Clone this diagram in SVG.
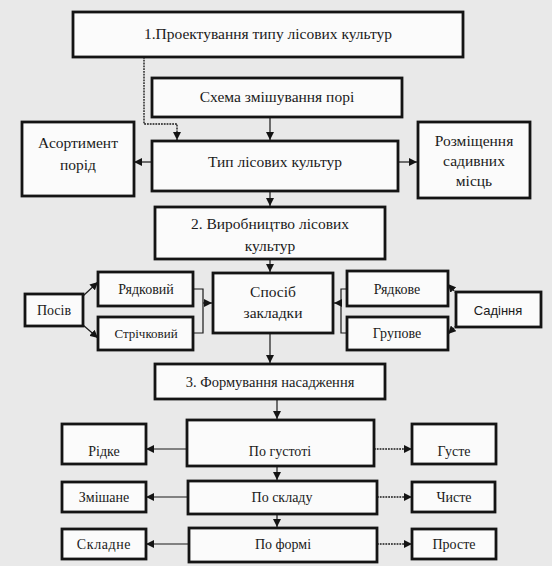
<svg xmlns="http://www.w3.org/2000/svg" width="552" height="566" viewBox="0 0 552 566">
<defs>
<style>
.bx{fill:#fbfbfb;stroke:#141414;stroke-width:2.8}
.t{font-family:"Liberation Serif","Times New Roman",serif;font-size:15.5px;fill:#1a1a1a;text-anchor:middle}
.m{font-size:14px}
.sm{font-size:13px}
.s{font-family:"Liberation Sans",Arial,sans-serif;font-size:13px;fill:#1a1a1a;text-anchor:middle}
.c{fill:none;stroke:#1a1a1a;stroke-width:1.2}
.d{fill:none;stroke:#1a1a1a;stroke-width:1.4;stroke-dasharray:1.8 1}
</style>
<marker id="ah" viewBox="0 0 10 10" refX="10" refY="5" markerWidth="8" markerHeight="8" markerUnits="userSpaceOnUse" orient="auto">
<path d="M0,0 L10,5 L0,10 Z" fill="#141414"/>
</marker>
</defs>
<rect width="552" height="566" fill="#e9e9e9"/>

<g id="connectors">
<path class="d" d="M144,57 V124 H177 V140" marker-end="url(#ah)"/>
<path class="c" d="M270,117 V140" marker-end="url(#ah)"/>
<path class="c" d="M152,162 H134" marker-end="url(#ah)"/>
<path class="c" d="M398,162 H417" marker-end="url(#ah)"/>
<path class="c" d="M270,191 V206" marker-end="url(#ah)"/>
<path class="c" d="M270,259 V272" marker-end="url(#ah)"/>
<path class="c" d="M83,296 L98,282" marker-end="url(#ah)"/>
<path class="c" d="M83,325 L98,338" marker-end="url(#ah)"/>
<path class="c" d="M193,289 H203 V333 H193"/>
<path class="c" d="M203,303 H212" marker-end="url(#ah)"/>
<path class="c" d="M347,289 H341 V333 H347"/>
<path class="c" d="M341,303 H334" marker-end="url(#ah)"/>
<path class="d" d="M456,293 L448,284" marker-end="url(#ah)"/>
<path class="d" d="M456,326 L448,334" marker-end="url(#ah)"/>
<path class="c" d="M270,333 V363" marker-end="url(#ah)"/>
<path class="c" d="M277,399 V419" marker-end="url(#ah)"/>
<path class="c" d="M187,449 H146" marker-end="url(#ah)"/>
<path class="d" d="M374,449 H412" marker-end="url(#ah)"/>
<path class="c" d="M277,466 V480" marker-end="url(#ah)"/>
<path class="c" d="M188,497 H146" marker-end="url(#ah)"/>
<path class="d" d="M377,497 H412" marker-end="url(#ah)"/>
<path class="c" d="M277,514 V527" marker-end="url(#ah)"/>
<path class="c" d="M189,544 H146" marker-end="url(#ah)"/>
<path class="d" d="M377,544 H412" marker-end="url(#ah)"/>
</g>

<g id="n1"><rect class="bx" x="73" y="12" width="390" height="45"/><text class="t" x="268" y="39">1.Проектування типу лісових культур</text></g>
<g id="n-schema"><rect class="bx" x="152" y="78" width="250" height="39"/><text class="t" x="277" y="102">Схема змішування порі</text></g>
<g id="n-typ"><rect class="bx" x="152" y="141" width="246" height="50"/><text class="t" x="275" y="167">Тип лісових культур</text></g>
<g id="n-asort"><rect class="bx" x="22" y="122" width="112" height="74"/><text class="t" x="78" y="148">Асортимент</text><text class="t" x="78" y="170">порід</text></g>
<g id="n-rozm"><rect class="bx" x="418" y="122" width="112" height="76"/><text class="t" x="474" y="146">Розміщення</text><text class="t" x="474" y="166">садивних</text><text class="t" x="474" y="186">місць</text></g>
<g id="n2"><rect class="bx" x="155" y="207" width="230" height="52"/><text class="t" x="270" y="229">2. Виробництво лісових</text><text class="t" x="270" y="251">культур</text></g>
<g id="n-sposib"><rect class="bx" x="213" y="273" width="120" height="60"/><text class="t" x="273" y="297">Спосіб</text><text class="t" x="273" y="318">закладки</text></g>
<g id="n-riadkovyi"><rect class="bx" x="98" y="272" width="95" height="34"/><text class="t m" x="146" y="294">Рядковий</text></g>
<g id="n-strichkovyi"><rect class="bx" x="98" y="317" width="95" height="33"/><text class="t sm" x="146" y="338">Стрічковий</text></g>
<g id="n-posiv"><rect class="bx" x="25" y="294" width="58" height="32"/><text class="t m" x="54" y="315">Посів</text></g>
<g id="n-riadkove"><rect class="bx" x="347" y="271" width="101" height="35"/><text class="t m" x="397" y="294">Рядкове</text></g>
<g id="n-hrupove"><rect class="bx" x="347" y="317" width="101" height="33"/><text class="t m" x="397" y="338">Групове</text></g>
<g id="n-sadinnia"><rect class="bx" x="456" y="292" width="85" height="35"/><text class="s" x="498" y="315">Садіння</text></g>
<g id="n3"><rect class="bx" x="155" y="364" width="230" height="35"/><text class="t" x="270" y="387" style="font-size:14.5px">3. Формування насадження</text></g>
<g id="n-hustota"><rect class="bx" x="187" y="420" width="187" height="46"/><text class="t m" x="280" y="456">По густоті</text></g>
<g id="n-ridke"><rect class="bx" x="62" y="424" width="84" height="40"/><text class="t m" x="104" y="456">Рідке</text></g>
<g id="n-huste"><rect class="bx" x="412" y="424" width="84" height="40"/><text class="t m" x="454" y="456">Густе</text></g>
<g id="n-sklad"><rect class="bx" x="188" y="481" width="189" height="33"/><text class="t m" x="282" y="502">По складу</text></g>
<g id="n-zmishane"><rect class="bx" x="62" y="482" width="84" height="30"/><text class="t m" x="104" y="502">Змішане</text></g>
<g id="n-chyste"><rect class="bx" x="412" y="482" width="83" height="30"/><text class="t m" x="454" y="502">Чисте</text></g>
<g id="n-forma"><rect class="bx" x="189" y="528" width="188" height="34"/><text class="t m" x="283" y="549">По формі</text></g>
<g id="n-skladne"><rect class="bx" x="62" y="529" width="84" height="30"/><text class="t m" x="104" y="549" letter-spacing="0.6">Складне</text></g>
<g id="n-proste"><rect class="bx" x="412" y="529" width="84" height="30"/><text class="t m" x="454" y="549">Просте</text></g>
</svg>
